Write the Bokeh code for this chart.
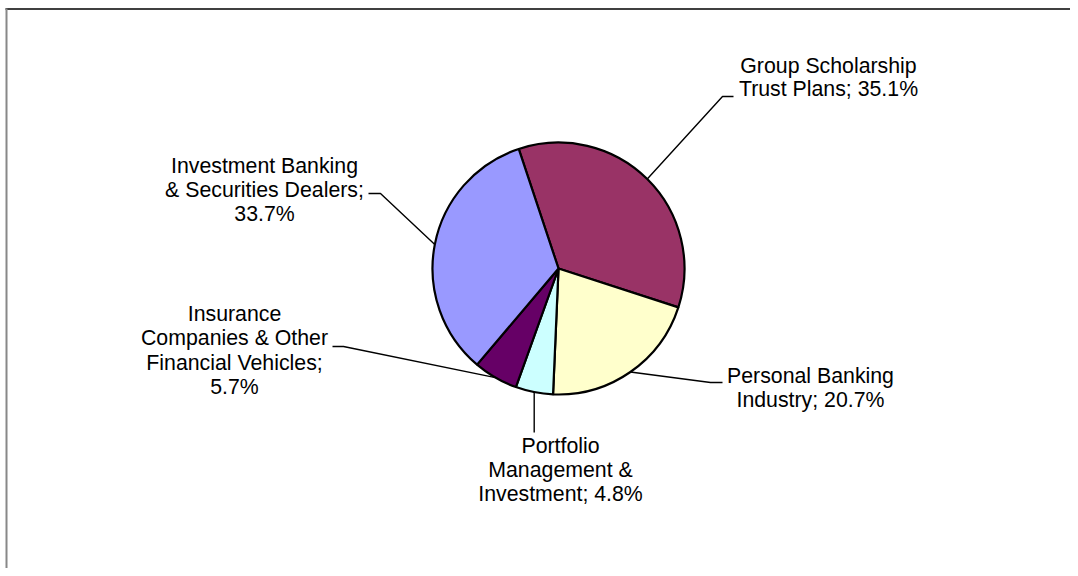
import math
from bokeh.plotting import figure
from bokeh.models import Range1d, ColumnDataSource
from bokeh.core.properties import value
from bokeh.embed import file_html
from bokeh.resources import INLINE

# ---- data (clockwise order, starting at the top-left boundary) ----
categories = ["Group Scholarship Trust Plans", "Personal Banking Industry",
              "Portfolio Management & Investment",
              "Insurance Companies & Other Financial Vehicles",
              "Investment Banking & Securities Dealers"]
shares = [35.1, 20.7, 4.8, 5.7, 33.7]
colors = ["#993366", "#FFFFCC", "#CCFFFF", "#660066", "#9999FF"]
label_lines = [
    ["Group Scholarship", "Trust Plans; 35.1%"],
    ["Personal Banking", "Industry; 20.7%"],
    ["Portfolio", "Management &", "Investment; 4.8%"],
    ["Insurance", "Companies & Other", "Financial Vehicles;", "5.7%"],
    ["Investment Banking", "& Securities Dealers;", "33.7%"],
]

W, H = 1070, 568
def Y(py):
    return H - py

cx, cy, R = 558, Y(268), 126
start_cw = -18.4  # degrees clockwise from 12 o'clock where first slice begins

label_center_x = [828, 810, 560, 234, 264]
label_first_y = [65, 375, 445, 313, 165]
line_step = [23, 24, 24, 24.5, 24]
leader_elbow = [(722, 96), (710, 382), None, (343, 346), (380, 193)]
leader_end = [(733, 96), (722, 382), (None, 432), (332, 346), (368, 193)]

p = figure(width=W, height=H, output_backend="svg", toolbar_location=None,
           x_range=Range1d(0, W), y_range=Range1d(0, H),
           min_border=0, background_fill_color="white", border_fill_color="white")
p.xaxis.visible = False
p.yaxis.visible = False
p.grid.visible = False
p.outline_line_color = None

# chart-area frame (top and left edges visible in window)
p.line([5, W], [Y(8.5), Y(8.5)], line_color="black", line_width=1.5)
p.line([6, 6], [0, Y(8)], line_color="#888888", line_width=2)

total = sum(shares)
starts, ends, mids = [], [], []
acc = start_cw
for s in shares:
    a0 = acc
    a1 = acc + s / total * 360.0
    starts.append(a0); ends.append(a1); mids.append((a0 + a1) / 2)
    acc = a1

def to_math(theta):
    return math.radians(90.0 - theta)

src = ColumnDataSource(dict(
    x=[cx] * len(shares), y=[cy] * len(shares),
    start=[to_math(e) for e in ends], end=[to_math(s) for s in starts],
    color=colors, name=categories))
p.wedge(x="x", y="y", radius=R, start_angle="start", end_angle="end",
        direction="anticlock", fill_color="color", line_color="black",
        line_width=2.2, source=src)

# leader lines
for i, m in enumerate(mids):
    t = math.radians(m)
    ex = cx + R * math.sin(t)
    ey = cy + R * math.cos(t)
    xs, ys = [ex], [ey]
    if leader_elbow[i] is not None:
        xs.append(leader_elbow[i][0]); ys.append(Y(leader_elbow[i][1]))
        xs.append(leader_end[i][0]); ys.append(Y(leader_end[i][1]))
    else:
        xs.append(ex); ys.append(Y(leader_end[i][1]))
    p.line(xs, ys, line_color="black", line_width=1.4)

# labels
tx, ty, tt = [], [], []
for i, lines in enumerate(label_lines):
    for j, ln in enumerate(lines):
        tx.append(label_center_x[i])
        ty.append(Y(label_first_y[i] + j * line_step[i]))
        tt.append(ln)
p.text(x=tx, y=ty, text=tt, text_align="center", text_baseline="middle",
       text_font=value("Liberation Sans"), text_font_size="21.3px",
       text_color="black")

open("out.html", "w").write(file_html(p, INLINE))
